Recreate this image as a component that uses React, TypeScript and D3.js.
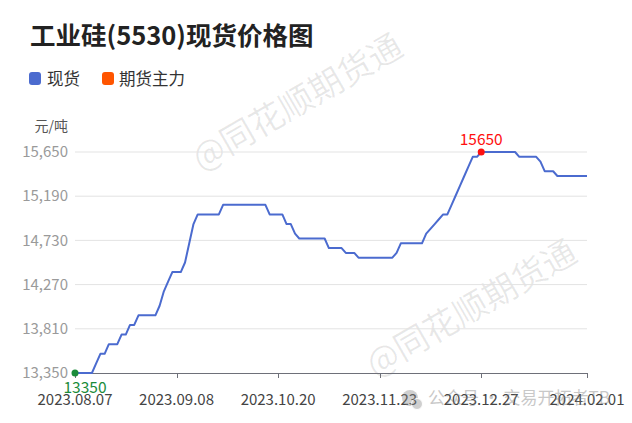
import React from 'react';
import * as d3 from 'd3';

const title = '工业硅(5530)现货价格图';
const legendNames = ['现货', '期货主力'];
const legendColors = ['#4b6bcf', '#ff5500'];
const unitLabel = '元/吨';
const yTicks = [13350, 13810, 14270, 14730, 15190, 15650];
const xTickIndex = [0, 24, 48, 72, 96, 121];
const xTickLabels = ['2023.08.07', '2023.09.08', '2023.10.20', '2023.11.23', '2023.12.27', '2024.02.01'];
const spot = [
  13350, 13350, 13350, 13350, 13350, 13450, 13550, 13550, 13650, 13650,
  13650, 13750, 13750, 13850, 13850, 13950, 13950, 13950, 13950, 13950,
  14050, 14200, 14300, 14400, 14400, 14400, 14500, 14700, 14900, 15000,
  15000, 15000, 15000, 15000, 15000, 15100, 15100, 15100, 15100, 15100,
  15100, 15100, 15100, 15100, 15100, 15100, 15000, 15000, 15000, 15000,
  14900, 14900, 14800, 14750, 14750, 14750, 14750, 14750, 14750, 14750,
  14650, 14650, 14650, 14650, 14600, 14600, 14600, 14550, 14550, 14550,
  14550, 14550, 14550, 14550, 14550, 14550, 14600, 14700, 14700, 14700,
  14700, 14700, 14700, 14800, 14850, 14900, 14950, 15000, 15000, 15100,
  15200, 15300, 15400, 15500, 15600, 15600, 15650, 15650, 15650, 15650,
  15650, 15650, 15650, 15650, 15650, 15600, 15600, 15600, 15600, 15600,
  15550, 15450, 15450, 15450, 15400, 15400, 15400, 15400, 15400, 15400,
  15400, 15400,
];
const watermarkText = '@同花顺期货通';
const footerText = '公众号 · 交易开拓者TB';

const FONT = '"Noto Sans CJK SC", "Noto Sans", sans-serif';

export default function App() {
  const W = 632, H = 423;
  const x = d3.scaleLinear().domain([0, spot.length - 1]).range([75, 587]);
  const y = d3.scaleLinear().domain([yTicks[0], yTicks[yTicks.length - 1]]).range([373, 152]);
  const line = d3.line<number>().x((_, i) => x(i)).y((d) => y(d));
  const minI = d3.minIndex(spot);
  const maxI = d3.maxIndex(spot);

  return (
    <svg width={W} height={H} style={{ position: 'absolute', left: 0, top: 0, fontFamily: FONT }}>
      <rect width={W} height={H} fill="#ffffff" />
      {/* watermarks */}
      <g fill="#000" fillOpacity={0.09} fontSize={34}>
        <text transform="translate(296,100) rotate(-30)" textAnchor="middle" dominantBaseline="central">{watermarkText}</text>
        <text transform="translate(470,306) rotate(-30)" textAnchor="middle" dominantBaseline="central">{watermarkText}</text>
      </g>
      {/* title */}
      <text x={30} y={44.5} fontSize={25.5} fontWeight="bold" fill="#222">{title}</text>
      {/* legend */}
      <rect x={29} y={72} width={12} height={13} rx={3} fill={legendColors[0]} />
      <text x={47} y={84.5} fontSize={16.5} fill="#333">{legendNames[0]}</text>
      <rect x={102} y={72} width={12} height={13} rx={3} fill={legendColors[1]} />
      <text x={119} y={84.5} fontSize={16.5} fill="#333">{legendNames[1]}</text>
      {/* unit */}
      <text x={68} y={131} textAnchor="end" fontSize={14} fill="#555">{unitLabel}</text>
      {/* grid + y labels */}
      {yTicks.map((t) => (
        <g key={t}>
          {t !== yTicks[0] && <line x1={75} x2={587} y1={y(t)} y2={y(t)} stroke="#e3e3e3" strokeWidth={1} />}
          <text x={68} y={y(t)} dy="0.35em" textAnchor="end" fontSize={15} fill="#9a9a9a">
            {d3.format(',')(t)}
          </text>
        </g>
      ))}
      {/* x axis */}
      <line x1={75} x2={587} y1={373.5} y2={373.5} stroke="#6e7079" strokeWidth={1} />
      {xTickIndex.map((idx, k) => (
        <g key={idx}>
          <line x1={Math.round(x(idx)) + 0.5} x2={Math.round(x(idx)) + 0.5} y1={373} y2={378} stroke="#6e7079" />
          <text x={x(idx)} y={405} textAnchor="middle" fontSize={15} fill="#444">{xTickLabels[k]}</text>
        </g>
      ))}
      {/* line */}
      <path d={line(spot) || ''} fill="none" stroke={legendColors[0]} strokeWidth={2} strokeLinejoin="round" />
      {/* min / max markers */}
      <circle cx={x(minI)} cy={y(spot[minI])} r={3.5} fill="#1a8c3a" />
      <text x={x(minI) + 10} y={y(spot[minI]) + 20} textAnchor="middle" fontSize={15.5} fill="#1a8c3a">{spot[minI]}</text>
      <circle cx={x(maxI)} cy={y(spot[maxI])} r={3.5} fill="#ff1010" />
      <text x={x(maxI)} y={y(spot[maxI]) - 7} textAnchor="middle" fontSize={15.5} fill="#ff1010">{spot[maxI]}</text>
      {/* footer watermark */}
      <g opacity={0.4}>
        <circle cx={410} cy={398} r={8} fill="#888" />
        <circle cx={417} cy={404} r={5.5} fill="#888" stroke="#fff" strokeWidth={1} />
        <text x={428} y={404} fontSize={17} fill="#777">{footerText}</text>
      </g>
    </svg>
  );
}
